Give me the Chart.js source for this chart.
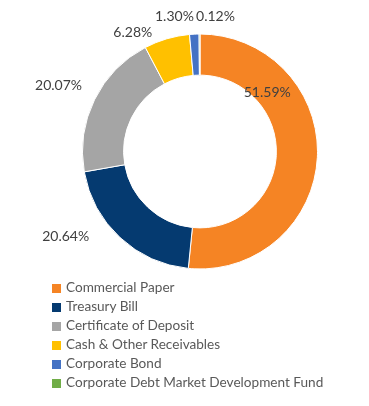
<!DOCTYPE html>
<html>
<head>
<meta charset="utf-8">
<script src="https://cdn.jsdelivr.net/npm/chart.js@4"></script>
<style>
  body { margin: 0; background: #fff; }
  #wrap { position: relative; width: 369px; height: 406px; }
  #legend { position: absolute; left: 52px; top: 279px; font-family: Lato, "Open Sans", sans-serif; font-size: 13.6px; color: #595959; }
  #legend div { height: 19px; line-height: 17px; white-space: nowrap; }
  #legend span { display: inline-block; width: 9px; height: 9px; margin-right: 5px; vertical-align: -1px; }
</style>
</head>
<body>
<div id="wrap">
  <canvas id="myChart" width="369" height="406"></canvas>
  <div id="legend"></div>
</div>
<script>
var categories = ['Commercial Paper', 'Treasury Bill', 'Certificate of Deposit', 'Cash & Other Receivables', 'Corporate Bond', 'Corporate Debt Market Development Fund'];
var values = [51.59, 20.64, 20.07, 6.28, 1.30, 0.12];
var colors = ['#F58424', '#053A70', '#A5A5A5', '#FFC000', '#4472C4', '#70AD47'];

// label placement: radius factor (relative to outer radius) and small nudges
var labelPos = [
  { r: 0.82, dx: -29, dy: -64 },
  { r: 1.28, dx: -32, dy: -25 },
  { r: 1.18, dx: -17, dy: -5 },
  { r: 1.12, dx: -30, dy: 7 },
  { r: 1.16, dx: -19, dy: 1 },
  { r: 1.16, dx: 16, dy: 1 }
];

var legend = document.getElementById('legend');
for (var i = 0; i < categories.length; i++) {
  var row = document.createElement('div');
  var box = document.createElement('span');
  box.style.background = colors[i];
  row.appendChild(box);
  row.appendChild(document.createTextNode(categories[i]));
  legend.appendChild(row);
}

var pctLabels = {
  id: 'pctLabels',
  afterDatasetsDraw: function(chart) {
    var ctx = chart.ctx;
    var meta = chart.getDatasetMeta(0);
    ctx.save();
    ctx.font = '14px Lato, "Open Sans", sans-serif';
    ctx.fillStyle = '#404040';
    ctx.textAlign = 'center';
    ctx.textBaseline = 'middle';
    meta.data.forEach(function(arc, i) {
      var p = arc.getProps(['x', 'y', 'startAngle', 'endAngle', 'outerRadius'], true);
      var mid = (p.startAngle + p.endAngle) / 2;
      var r = p.outerRadius * labelPos[i].r;
      var x = p.x + Math.cos(mid) * r + labelPos[i].dx;
      var y = p.y + Math.sin(mid) * r + labelPos[i].dy;
      ctx.fillText(values[i].toFixed(2) + '%', x, y);
    });
    ctx.restore();
  }
};

var ctx = document.getElementById('myChart').getContext('2d');
var chart = new Chart(ctx, {
  type: 'doughnut',
  data: {
    labels: categories,
    datasets: [{
      data: values,
      backgroundColor: colors,
      borderColor: '#ffffff',
      borderWidth: 1
    }]
  },
  options: {
    responsive: false,
    animation: false,
    cutout: '65%',
    layout: { padding: { left: 82, right: 51, top: 33, bottom: 136 } },
    plugins: {
      legend: { display: false },
      tooltip: { enabled: false }
    }
  },
  plugins: [pctLabels]
});
</script>
</body>
</html>
